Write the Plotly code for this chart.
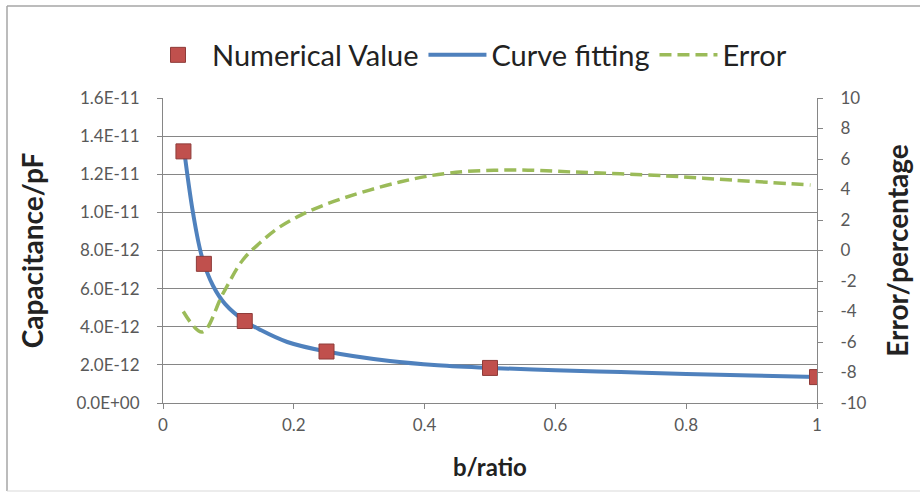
import plotly.graph_objects as go

# Numerical values (markers)
num_x = [0.03125, 0.0625, 0.125, 0.25, 0.5, 1.0]
num_y = [1.32e-11, 7.30e-12, 4.30e-12, 2.70e-12, 1.84e-12, 1.36e-12]

# Curve fitting
fit_x = [0.03125, 0.0459, 0.0596, 0.0765, 0.0948, 0.125, 0.148, 0.19, 0.25, 0.347, 0.42, 0.5,
         0.6, 0.7, 0.8, 0.9, 1.0]
fit_y = [1.355e-11, 9.97e-12, 7.66e-12, 6.15e-12, 5.20e-12, 4.30e-12, 3.85e-12, 3.20e-12, 2.70e-12,
         2.20e-12, 1.98e-12, 1.84e-12, 1.72e-12, 1.62e-12, 1.52e-12, 1.44e-12, 1.36e-12]

# Error (percentage, right axis)
err_x = [0.031, 0.06, 0.092, 0.122, 0.148, 0.176, 0.21, 0.26, 0.362, 0.438, 0.53, 0.626, 0.77, 0.87, 0.99]
err_y = [-4.0, -5.35, -2.8, -0.62, 0.49, 1.47, 2.3, 3.2, 4.49, 5.08, 5.28, 5.15, 4.89, 4.62, 4.3]

left_ticks = [0, 2e-12, 4e-12, 6e-12, 8e-12, 1e-11, 1.2e-11, 1.4e-11, 1.6e-11]
left_labels = ["0.0E+00", "2.0E-12", "4.0E-12", "6.0E-12", "8.0E-12", "1.0E-11", "1.2E-11", "1.4E-11", "1.6E-11"]
right_ticks = [-10, -8, -6, -4, -2, 0, 2, 4, 6, 8, 10]
right_labels = ["-10", "-8", "-6", "-4", "-2", "0", "2", "4", "6", "8", "10"]
x_ticks = [0, 0.2, 0.4, 0.6, 0.8, 1]
x_labels = ["0", "0.2", "0.4", "0.6", "0.8", "1"]

FONT = "Lato, Open Sans, sans-serif"
TICKC = "#595959"
AXC = "#868686"

# plot area in pixels: x 163..817, y 98..403
def px(xp):
    return (xp - 163) / 654

def py(yp):
    return (403 - yp) / 305

fig = go.Figure()
fig.add_trace(go.Scatter(x=fit_x, y=fit_y, mode="lines", name="Curve fitting", line_shape="spline",
                         legendrank=2, line=dict(color="#4F81BD", width=4)))
fig.add_trace(go.Scatter(x=err_x, y=err_y, mode="lines", name="Error", yaxis="y2", line_shape="spline",
                         legendrank=3, line=dict(color="#9BBB59", width=3.5, dash="12px,6px")))
fig.add_trace(go.Scatter(x=num_x, y=num_y, mode="markers", name="Numerical Value", legendrank=1,
                         marker=dict(symbol="square", size=15, color="#C0504D",
                                     line=dict(color="#8E3B39", width=1))))

fig.update_layout(
    width=920, height=492,
    margin=dict(l=163, r=103, t=98, b=89, autoexpand=False),
    paper_bgcolor="white", plot_bgcolor="white",
    font=dict(family=FONT, color="#222"),
    showlegend=True,
    legend=dict(orientation="h", x=px(468), xanchor="center", y=py(55), yanchor="middle",
                font=dict(size=29, family=FONT, color="#222"),
                itemwidth=58, tracegroupgap=0),
    xaxis=dict(range=[0, 1], tickvals=x_ticks, ticktext=x_labels, showgrid=False, automargin=False,
               showline=True, linecolor=AXC, linewidth=1, ticks="outside", ticklen=5,
               tickcolor=AXC, zeroline=False, ticklabelstandoff=2,
               tickfont=dict(size=17, color=TICKC, family=FONT),
               title=dict(text="<b>b/ratio</b>", font=dict(size=24, family=FONT, color="#222"), standoff=24)),
    yaxis=dict(range=[0, 1.6e-11], tickvals=left_ticks, ticktext=left_labels, showgrid=True, automargin=False,
               gridcolor=AXC, gridwidth=1, showline=True, linecolor=AXC, linewidth=1,
               ticks="outside", ticklen=5, tickcolor=AXC, zeroline=False, ticklabelstandoff=14,
               tickfont=dict(size=17, color=TICKC, family=FONT),
               title=dict(text="<b>Capacitance/pF</b>", font=dict(size=28, family=FONT, color="#222"), standoff=24)),
    yaxis2=dict(range=[-10, 10], tickvals=right_ticks, ticktext=right_labels, overlaying="y", side="right",
                showgrid=False, automargin=False,
                showline=True, linecolor=AXC, linewidth=1, ticks="outside", ticklen=5,
                tickcolor=AXC, zeroline=False, ticklabelstandoff=14,
                tickfont=dict(size=17, color=TICKC, family=FONT),
                title=dict(text="<b>Error/percentage</b>", font=dict(size=28, family=FONT, color="#222"), standoff=22)),
    shapes=[
        dict(type="line", xref="paper", yref="paper", x0=px(7), x1=px(920), y0=py(6), y1=py(6),
             line=dict(color="#A6A6A6", width=1.5)),
        dict(type="line", xref="paper", yref="paper", x0=px(7), x1=px(7), y0=py(6), y1=py(491),
             line=dict(color="#A6A6A6", width=1.5)),
        dict(type="line", xref="paper", yref="paper", x0=px(7), x1=px(920), y0=py(491), y1=py(491),
             line=dict(color="#D9D9D9", width=1)),
    ],
)

fig.write_html("out.html")
